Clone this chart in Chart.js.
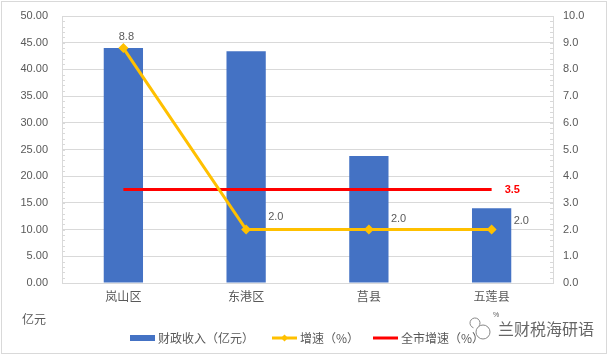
<!DOCTYPE html>
<html><head><meta charset="utf-8">
<script src="https://cdn.jsdelivr.net/npm/chart.js@4.4.1/dist/chart.umd.min.js"></script>
<style>html,body{margin:0;padding:0;background:#fff;}#wrap{width:608px;height:355px;position:relative;}</style>
</head><body><div id="wrap"><canvas id="c" width="608" height="355"></canvas></div>
<script>
const categories = ['岚山区', '东港区', '莒县', '五莲县'];
const revenue = [44.0, 43.4, 23.8, 14.0];
const growth = [8.8, 2.0, 2.0, 2.0];
const cityGrowth = [3.5, 3.5, 3.5, 3.5];
const leftTicks = [0, 5, 10, 15, 20, 25, 30, 35, 40, 45, 50];
const rightTicks = [0, 1, 2, 3, 4, 5, 6, 7, 8, 9, 10];
const legendLabels = ['财政收入（亿元）', '增速（%）', '全市增速（%）'];
const unitLeft = '亿元';
const unitRight = '%';
const watermark = '兰财税海研语';

const FONT = "'Liberation Sans', 'Noto Sans CJK SC', sans-serif";
const CJK = "'Noto Sans CJK SC', sans-serif";
const GREY = '#595959';

const deco = {
  id: 'deco',
  beforeDraw(chart) {
    const ctx = chart.ctx;
    ctx.save();
    ctx.fillStyle = '#fff';
    ctx.fillRect(0, 0, chart.width, chart.height);
    ctx.restore();
  },
  afterDatasetsDraw(chart) {
    const ctx = chart.ctx;
    const a = chart.chartArea;
    const y = chart.scales.y, y1 = chart.scales.y1;
    ctx.save();
    ctx.strokeStyle = '#d9d9d9';
    ctx.lineWidth = 1;
    ctx.strokeRect(Math.round(a.left) + 0.5, Math.round(a.top) + 0.5, Math.round(a.right - a.left), Math.round(a.bottom - a.top));
    for (let v = 0; v <= 50; v += 1) {
      const py = Math.round(y.getPixelForValue(v)) + 0.5;
      ctx.beginPath(); ctx.moveTo(a.left, py); ctx.lineTo(a.left + 3, py); ctx.stroke();
    }
    for (let v = 0; v <= 10; v += 0.2) {
      const py = Math.round(y1.getPixelForValue(v)) + 0.5;
      ctx.beginPath(); ctx.moveTo(a.right - 3, py); ctx.lineTo(a.right, py); ctx.stroke();
    }
    const m1 = chart.getDatasetMeta(1);
    ctx.font = '11px ' + FONT;
    ctx.fillStyle = GREY;
    ctx.textBaseline = 'middle';
    m1.data.forEach((p, i) => {
      const t = growth[i].toFixed(1);
      if (i === 0) { ctx.textAlign = 'center'; ctx.fillText(t, p.x + 3, p.y - 11); }
      else { ctx.textAlign = 'left'; ctx.fillText(t, p.x + 22, p.y - 13 + (i === 1 ? 0 : 2) + (i === 3 ? 2 : 0)); }
    });
    const m2 = chart.getDatasetMeta(2);
    const last = m2.data[m2.data.length - 1];
    ctx.font = 'bold 11px ' + FONT;
    ctx.fillStyle = '#FF0000';
    ctx.textAlign = 'left';
    ctx.fillText(cityGrowth[cityGrowth.length - 1].toFixed(1), last.x + 13, last.y);
    ctx.font = '12px ' + CJK;
    ctx.fillStyle = GREY;
    ctx.textAlign = 'left';
    ctx.fillText(unitLeft, 22, 319);
    ctx.font = '7px ' + FONT;
    ctx.fillText(unitRight, 493, 315);
    ctx.font = '12px ' + CJK;
    ctx.textBaseline = 'middle';
    const ly = 338;
    ctx.fillStyle = '#4472C4';
    ctx.fillRect(130, ly - 3, 25, 6);
    ctx.fillStyle = GREY;
    ctx.fillText(legendLabels[0], 158, ly);
    ctx.strokeStyle = '#FFC000'; ctx.lineWidth = 3;
    ctx.beginPath(); ctx.moveTo(272, ly); ctx.lineTo(297, ly); ctx.stroke();
    ctx.fillStyle = '#FFC000';
    ctx.beginPath(); ctx.moveTo(284.5, ly - 3.5); ctx.lineTo(288, ly); ctx.lineTo(284.5, ly + 3.5); ctx.lineTo(281, ly); ctx.closePath(); ctx.fill();
    ctx.fillStyle = GREY;
    ctx.fillText(legendLabels[1], 300, ly);
    ctx.strokeStyle = '#FF0000';
    ctx.beginPath(); ctx.moveTo(373, ly); ctx.lineTo(398, ly); ctx.stroke();
    ctx.fillStyle = GREY;
    ctx.fillText(legendLabels[2], 401, ly);
    ctx.font = '16px ' + CJK;
    ctx.fillStyle = '#666';
    ctx.fillText(watermark, 498, 329);
    ctx.strokeStyle = '#888'; ctx.lineWidth = 1;
    ctx.beginPath(); ctx.arc(483, 332, 7, 0, Math.PI * 2); ctx.stroke();
    ctx.beginPath(); ctx.arc(475, 323, 5, Math.PI * 0.6, Math.PI * 2.2); ctx.stroke();
    ctx.strokeStyle = '#d9d9d9';
    ctx.strokeRect(1.5, 1.5, chart.width - 3, chart.height - 3);
    ctx.restore();
  }
};

new Chart(document.getElementById('c'), {
  data: {
    labels: categories,
    datasets: [
      { type: 'bar', label: legendLabels[0], data: revenue, backgroundColor: '#4472C4', yAxisID: 'y', barPercentage: 0.32, categoryPercentage: 1, order: 3 },
      { type: 'line', label: legendLabels[1], data: growth, borderColor: '#FFC000', backgroundColor: '#FFC000', borderWidth: 3, pointStyle: 'rectRot', pointRadius: 5, pointBorderWidth: 0, yAxisID: 'y1', tension: 0, order: 1 },
      { type: 'line', label: legendLabels[2], data: cityGrowth, borderColor: '#FF0000', borderWidth: 3, pointRadius: 0, yAxisID: 'y1', tension: 0, order: 2 }
    ]
  },
  options: {
    responsive: false,
    animation: false,
    devicePixelRatio: 1,
    layout: { padding: { top: 16, left: 0, right: 0, bottom: 0 } },
    plugins: { legend: { display: false }, tooltip: { enabled: false } },
    scales: {
      x: {
        grid: { display: false, drawTicks: false },
        border: { display: true, color: '#d9d9d9' },
        ticks: { color: GREY, font: { family: CJK, size: 12 }, padding: 6 },
        afterFit(s) { s.height = 72; s.paddingLeft = 0; s.paddingRight = 0; }
      },
      y: {
        position: 'left', min: 0, max: 50,
        afterBuildTicks(s) { s.ticks = leftTicks.map(v => ({ value: v })); },
        grid: { color: '#d9d9d9', drawTicks: false },
        border: { display: false },
        ticks: { color: GREY, font: { family: FONT, size: 11 }, padding: 14, callback: v => v.toFixed(2) },
        afterFit(s) { s.width = 62; s.paddingTop = 0; s.paddingBottom = 0; }
      },
      y1: {
        position: 'right', min: 0, max: 10,
        afterBuildTicks(s) { s.ticks = rightTicks.map(v => ({ value: v })); },
        grid: { display: false, drawTicks: false },
        border: { display: false },
        ticks: { color: GREY, font: { family: FONT, size: 11 }, padding: 10, callback: v => v.toFixed(1) },
        afterFit(s) { s.width = 55; s.paddingTop = 0; s.paddingBottom = 0; }
      }
    }
  },
  plugins: [deco]
});
</script></body></html>
